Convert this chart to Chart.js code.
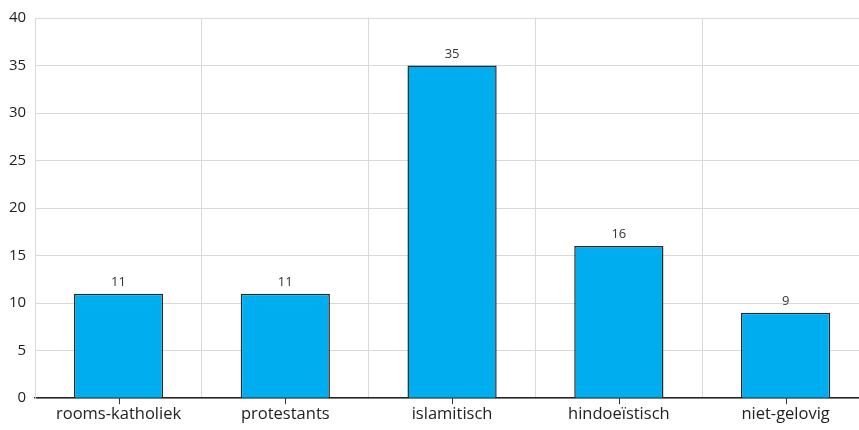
<!DOCTYPE html>
<html>
<head>
<meta charset="utf-8">
<script src="https://cdn.jsdelivr.net/npm/chart.js@4/dist/chart.umd.min.js"></script>
<style>
  html, body { margin: 0; padding: 0; background: #fff; overflow: hidden; }
  #wrap { width: 869px; height: 430px; }
</style>
</head>
<body>
<div id="wrap"><canvas id="chart" width="869" height="430"></canvas></div>
<script>
const categories = ['rooms-katholiek', 'protestants', 'islamitisch', 'hindoeïstisch', 'niet-gelovig'];
const values = [11, 11, 35, 16, 9];
const yTicks = [0, 5, 10, 15, 20, 25, 30, 35, 40];

const fontfam = '"Open Sans", "Noto Sans", sans-serif';

// value labels above each bar
const valueLabels = {
    id: 'valueLabels',
    afterDatasetsDraw(chart) {
        const ctx = chart.ctx;
        const meta = chart.getDatasetMeta(0);
        ctx.save();
        ctx.font = `13px ${fontfam}`;
        ctx.fillStyle = '#333';
        ctx.textAlign = 'center';
        ctx.textBaseline = 'bottom';
        meta.data.forEach((bar, i) => {
            ctx.fillText(String(values[i]), bar.x, bar.y - 5);
        });
        ctx.restore();
    }
};

// small tick marks under the axis at the category centres
const centreTicks = {
    id: 'centreTicks',
    afterDraw(chart) {
        const ctx = chart.ctx;
        const x = chart.scales.x;
        const bottom = chart.chartArea.bottom;
        ctx.save();
        ctx.strokeStyle = '#333';
        ctx.lineWidth = 1;
        categories.forEach((c, i) => {
            const px = Math.round(x.getPixelForValue(i)) + 0.5;
            ctx.beginPath();
            ctx.moveTo(px, bottom);
            ctx.lineTo(px, bottom + 6);
            ctx.stroke();
        });
        ctx.restore();
    }
};

new Chart(document.getElementById('chart'), {
    type: 'bar',
    data: {
        labels: categories,
        datasets: [{
            data: values,
            backgroundColor: '#00aeef',
            borderColor: '#2a2a2a',
            borderWidth: 1.5,
            barPercentage: 0.535,
            categoryPercentage: 1
        }]
    },
    options: {
        responsive: false,
        animation: false,
        layout: { padding: { top: 12, right: 0, left: 0, bottom: 0 } },
        plugins: {
            legend: { display: false },
            tooltip: { enabled: false }
        },
        scales: {
            x: {
                grid: { offset: true, color: '#d9d9d9', drawTicks: false },
                border: { color: '#222', width: 1.5 },
                ticks: { padding: 6, color: '#222', font: { family: fontfam, size: 16.5 } }
            },
            y: {
                min: 0,
                max: 40,
                afterBuildTicks: (scale) => { scale.ticks = yTicks.map(v => ({ value: v })); },
                grid: { color: '#d9d9d9', drawTicks: false },
                border: { color: '#d9d9d9' },
                ticks: { padding: 9, color: '#222', font: { family: fontfam, size: 15 } }
            }
        }
    },
    plugins: [valueLabels, centreTicks]
});
</script>
</body>
</html>
